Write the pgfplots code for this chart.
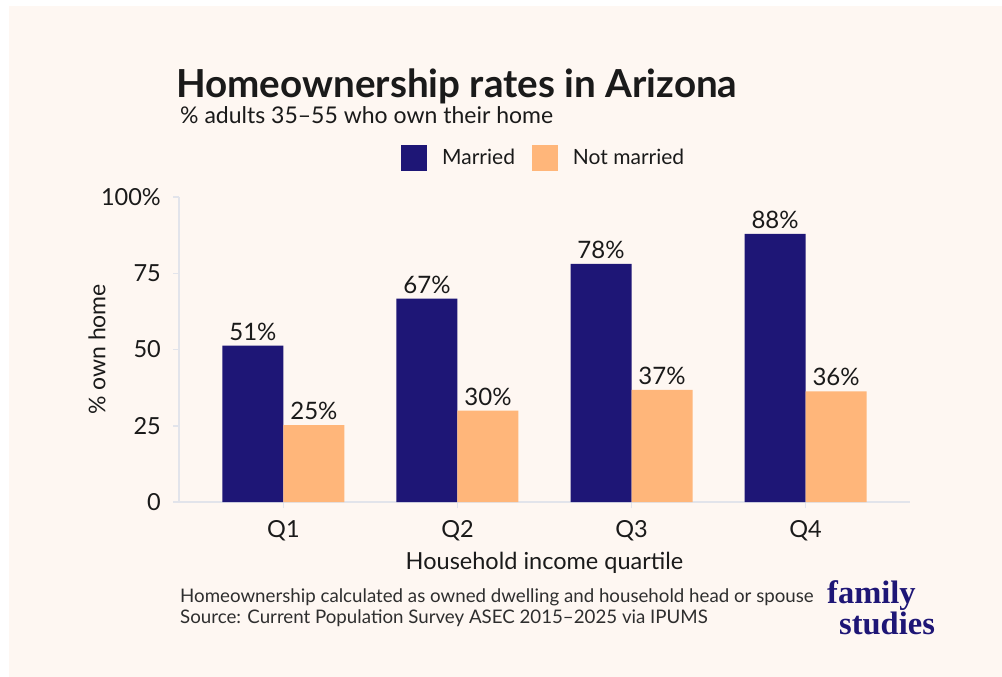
\documentclass[border=0pt]{standalone}
\usepackage{pgfplots}
\pgfplotsset{compat=1.18}
\usepackage{fontspec}
\setmainfont{Lato}
\newfontfamily\logofont{Liberation Serif}
\definecolor{cream}{HTML}{FEF7F2}
\definecolor{navy}{HTML}{1E1676}
\definecolor{peach}{HTML}{FFB67A}
\definecolor{axisgray}{HTML}{E2E4EB}
\definecolor{txt}{HTML}{1A1A1A}
\definecolor{captxt}{HTML}{2E2E2E}
\begin{document}
\begin{tikzpicture}
\useasboundingbox (0pt,0pt) rectangle (1002pt,-677pt);
\fill[white] (0pt,0pt) rectangle (1002pt,-677pt);
\fill[cream] (9pt,-6pt) rectangle (1002pt,-677pt);
\node[anchor=base west, inner sep=0pt, text=txt] at (176pt,-98pt) {\fontsize{38.6}{44}\selectfont\bfseries Homeownership rates in Arizona};
\node[anchor=base west, inner sep=0pt, text=txt] at (180pt,-124pt) {\fontsize{23}{27}\selectfont \% adults 35–55 who own their home};
\begin{axis}[
  at={(179pt,-502pt)}, anchor=south west,
  scale only axis, width=731pt, height=305pt,
  xmin=-0.6, xmax=3.6, ymin=0, ymax=100,
  ybar=0pt, bar width=61pt,
  axis x line*=bottom, axis y line*=left,
  axis line style={draw=axisgray, line width=1.8pt},
  xtick={0,1,2,3}, xticklabels={Q1,Q2,Q3,Q4},
  ytick={0,25,50,75,100}, yticklabels={0,25,50,75,100\%},
  tick style={draw=axisgray, line width=1.5pt},
  major tick length=6pt, tick align=outside,
  ticklabel style={font=\fontsize{23.5}{27}\selectfont, text=txt},
  yticklabel style={inner sep=0pt, anchor=east},
  yticklabel shift=12pt,
  xticklabel style={inner sep=0pt, anchor=north},
  xticklabel shift=12pt,
  /pgf/number format/assume math mode=true,
  ylabel={\% own home},
  ylabel style={at={(axis description cs:-0.1122,0.5)}, anchor=center, font=\fontsize{23}{27}\selectfont, text=txt},
  xlabel={Household income quartile},
  xlabel style={at={(axis description cs:0.5,-0.201)}, anchor=center, font=\fontsize{23.5}{27}\selectfont, text=txt},
  nodes near coords={\pgfmathprintnumber[fixed,precision=0]{\pgfplotspointmeta}\%},
  every node near coord/.append style={font=\fontsize{24}{28}\selectfont, text=txt, inner sep=0pt, anchor=south, yshift=5pt},
  legend columns=2,
  legend style={at={(axis description cs:0.3037,1.1279)}, anchor=west, draw=none, fill=none,
    inner sep=0pt, nodes={inner sep=0pt}, font=\fontsize{21}{25}\selectfont, text=txt,
    /tikz/every odd column/.append style={column sep=15pt},
    /tikz/every even column/.append style={column sep=17pt}},
  legend cell align=left,
  legend image code/.code={\fill[#1] (0pt,-13pt) rectangle (26pt,13pt);},
  clip=false,
]
\addplot[fill=navy, draw=none] coordinates {(0,51.3) (1,66.7) (2,78.1) (3,87.9)};
\addplot[fill=peach, draw=none] coordinates {(0,25.2) (1,30.0) (2,36.8) (3,36.3)};
\legend{Married, Not married}
\draw[axisgray, line width=1.8pt] (rel axis cs:0,0) -- ++(-6pt,0pt);
\end{axis}
\node[anchor=base west, inner sep=0pt, text=captxt] at (180pt,-602pt) {\fontsize{18.7}{22}\selectfont Homeownership calculated as owned dwelling and household head or spouse};
\node[anchor=base west, inner sep=0pt, text=captxt] at (180pt,-623pt) {\fontsize{18.7}{22}\selectfont Source: Current Population Survey ASEC 2015–2025 via IPUMS};
\node[anchor=base west, inner sep=0pt, text=navy, align=left, font=\logofont\bfseries\fontsize{32.5}{26}\selectfont] at (827pt,-634pt) {family\\\hspace{12pt}studies};
\end{tikzpicture}
\end{document}
